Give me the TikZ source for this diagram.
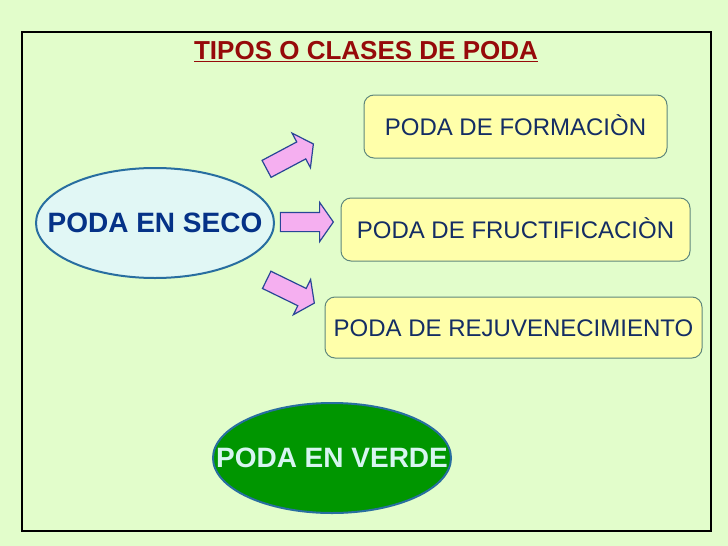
\documentclass[tikz,border=0pt]{standalone}
\usepackage{fontspec}
\setmainfont{Liberation Sans}
\usetikzlibrary{shapes.geometric,shapes.arrows}
\definecolor{fondo}{RGB}{226,253,203}
\definecolor{rojotitulo}{RGB}{150,10,10}
\definecolor{amarillo}{RGB}{255,255,170}
\definecolor{bordecaja}{RGB}{95,135,125}
\definecolor{azulcaja}{RGB}{20,45,100}
\definecolor{bordeazul}{RGB}{40,110,160}
\definecolor{celeste}{RGB}{225,247,245}
\definecolor{azulseco}{RGB}{5,50,135}
\definecolor{verde}{RGB}{0,150,0}
\definecolor{blancoverde}{RGB}{215,245,240}
\definecolor{rosa}{RGB}{245,175,240}
\definecolor{azulflecha}{RGB}{40,70,150}

\tikzset{
  caja/.style={draw=bordecaja, line width=1pt, fill=amarillo, rounded corners=10pt,
    text=azulcaja, font=\fontsize{24}{28}\selectfont, inner sep=0pt,
    text height=17pt, text depth=0pt},
  elipse/.style={ellipse, draw=bordeazul, line width=2pt, minimum width=238pt,
    minimum height=110pt, inner sep=0pt, font=\bfseries\fontsize{28}{32}\selectfont,
    text height=19pt, text depth=0pt},
  flecha/.style={single arrow, draw=azulflecha, line width=1.2pt, fill=rosa,
    minimum height=53pt, inner xsep=0pt, inner ysep=9pt, single arrow head extend=10pt,
    single arrow tip angle=110}
}

\begin{document}
\begin{tikzpicture}[x=1pt,y=-1pt]
\fill[fondo] (0,0) rectangle (728,546);
\useasboundingbox (0,0) rectangle (728,546);
\draw[line width=2.2pt] (22,32) rectangle (711,531);

\node[text=rojotitulo, font=\bfseries\fontsize{26}{30}\selectfont](titulo) at (366,52) {\underline{TIPOS O CLASES DE PODA}};

\node[elipse, fill=celeste, text=azulseco](seco) at (155,223) {\makebox[0pt]{PODA EN SECO}};
\node[elipse, fill=verde, text=blancoverde](verde) at (332,458) {\makebox[0pt]{PODA EN VERDE}};

\node[caja, minimum width=303pt, minimum height=63pt](formacion) at (515.5,126.5) {PODA DE FORMACIÒN};
\node[caja, minimum width=349pt, minimum height=63pt](fructificacion) at (515.5,229.5) {PODA DE FRUCTIFICACIÒN};
\node[caja, minimum width=377pt, minimum height=61pt](rejuvenecimiento) at (513.5,327.5) {PODA DE REJUVENECIMIENTO};

\node[flecha, rotate=28](f1) at (287,158) {};
\node[flecha](f2) at (303.5,222) {};
\node[flecha, rotate=-26](f3) at (287.5,290) {};
\end{tikzpicture}
\end{document}
